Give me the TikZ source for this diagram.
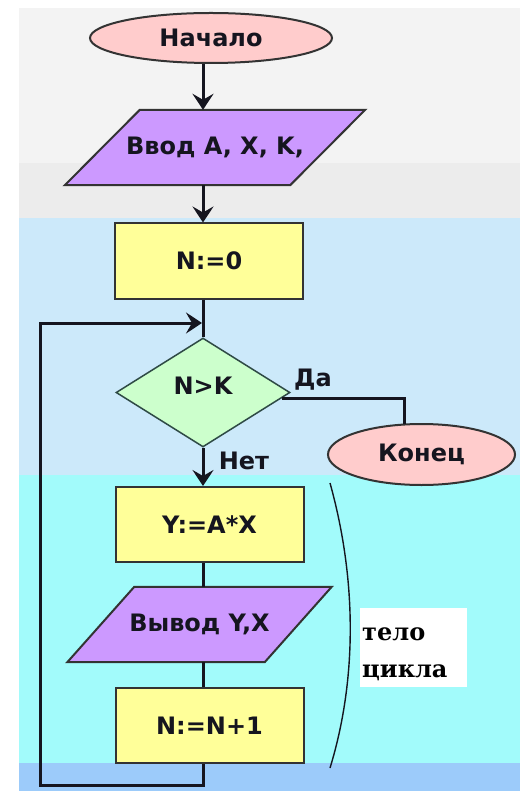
\documentclass[tikz,border=0pt]{standalone}
\usepackage{fontspec}
\setsansfont{DejaVu Sans}
\newfontfamily\notefont{DejaVu Serif}
\usetikzlibrary{arrows.meta,shapes.geometric,calc}

\definecolor{topgray}{HTML}{F3F3F3}
\definecolor{midgray}{HTML}{ECECEC}
\definecolor{paleblue}{HTML}{CCE9FA}
\definecolor{palecyan}{HTML}{A2FBFB}
\definecolor{bandblue}{HTML}{9CCBFA}
\definecolor{termfill}{HTML}{FFCCCC}
\definecolor{iofill}{HTML}{CC99FF}
\definecolor{procfill}{HTML}{FFFF99}
\definecolor{decfill}{HTML}{CCFFCC}
\definecolor{ink}{HTML}{15151F}
\definecolor{edgegray}{HTML}{333333}
\definecolor{decedge}{HTML}{2E4A45}

\pgfdeclarelayer{bg}
\pgfsetlayers{bg,main}

\begin{document}
\begin{tikzpicture}[x=1pt,y=-1pt,
  every node/.style={font=\sffamily\bfseries\fontsize{24}{28}\selectfont, text=ink, inner sep=0pt},
  term/.style={ellipse, draw=edgegray, line width=2pt, fill=termfill},
  proc/.style={rectangle, draw=edgegray, line width=2pt, fill=procfill,
               minimum width=188pt, minimum height=75pt},
  iobox/.style={rectangle, minimum height=75pt},
  iopath/.style={draw=edgegray, line width=2pt, fill=iofill},
  decide/.style={diamond, draw=decedge, line width=1.5pt, fill=decfill,
                 minimum width=174pt, minimum height=109pt, text depth=14pt},
  flow/.style={draw=ink, line width=3pt},
  arr/.style={flow, -{Stealth[length=16pt,width=21pt,inset=6pt]}},
  notebox/.style={rectangle, fill=white, minimum width=107pt, minimum height=79pt},
  notetext/.style={font=\notefont\bfseries\fontsize{24}{37}\selectfont, align=left, text=black},
]
\useasboundingbox (0,0) rectangle (520,791);

% page bands
\begin{pgfonlayer}{bg}
  \fill[white] (0,0) rectangle (520,791);
  \fill[topgray] (19,8) rectangle (520,163);
  \fill[midgray] (19,163) rectangle (520,218);
  \fill[paleblue] (19,218) rectangle (520,475);
  \fill[palecyan] (19,475) rectangle (520,763);
  \fill[bandblue] (19,763) rectangle (520,791);
\end{pgfonlayer}

% blocks
\node[term, minimum width=242pt, minimum height=50pt] (start) at (211,38) {Начало};
\node[iobox, minimum width=225pt] (inp) at (215,147.5) {Ввод A, X, K,};
\node[proc] (init) at (209,261) {N:=0};
\node[decide] (dec) at (203,392.5) {N>K};
\node[term, minimum width=187pt, minimum height=61pt] (stop) at (421.5,454.5) {Конец};
\node[proc] (body) at (209.5,524.5) {Y:=A*X};
\node[iobox, minimum width=197pt] (outp) at (199.5,624.5) {Вывод Y,X};
\node[proc] (inc) at (209.5,725.5) {N:=N+1};

% parallelogram outlines behind the I/O texts
\begin{pgfonlayer}{bg}
  \path[iopath] ($(inp.north west)+(37.5,0)$) -- ($(inp.north east)+(37.5,0)$)
     -- ($(inp.south east)+(-37.5,0)$) -- ($(inp.south west)+(-37.5,0)$) -- cycle;
  \path[iopath] ($(outp.north west)+(33.5,0)$) -- ($(outp.north east)+(33.5,0)$)
     -- ($(outp.south east)+(-33.5,0)$) -- ($(outp.south west)+(-33.5,0)$) -- cycle;
\end{pgfonlayer}

% branch labels
\node (yes) at (313,380) {Да};
\node (no) at (244,461) {Нет};

% connectors
\coordinate (spine) at (203,0);
\coordinate (loopcorner) at (40,785);
\coordinate (merge) at (203,323);
\draw[arr] (spine |- start.south) -- (spine |- inp.north);
\draw[arr] (spine |- inp.south) -- (spine |- init.north);
\draw[flow] (spine |- init.south) -- (dec.north);
\draw[arr] (dec.south) -- (spine |- body.north);
\draw[flow] (spine |- body.south) -- (spine |- outp.north);
\draw[flow] (spine |- outp.south) -- (spine |- inc.north);
\draw[arr, shorten >=1pt] (spine |- inc.south) |- (loopcorner) |- (merge);
\draw[flow] (dec.-4) -| (stop.119);

% loop body bracket and its note
\draw[ink, line width=1.4pt] (330,483) .. controls (357,580) and (357,680) .. (330,768);
\node[notebox] (tbox) at (413.5,647.5) {};
\node[notetext, anchor=north west] (tlab) at (362,627) {тело\\цикла};
\end{tikzpicture}
\end{document}
